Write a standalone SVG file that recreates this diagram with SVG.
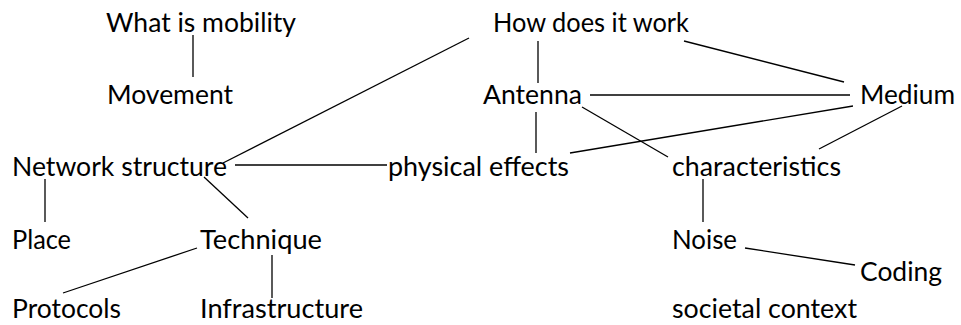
<svg xmlns="http://www.w3.org/2000/svg" width="961" height="325" viewBox="0 0 961 325">
<style>
text{font-family:Lato,"Open Sans","Liberation Sans",sans-serif;font-size:26.5px;fill:#000}
.c line{stroke:#000;stroke-width:1.3}
</style>
<rect width="961" height="325" fill="#fff"/>
<g id="connectors" class="c">
<line x1="193" y1="35" x2="193" y2="77"/>
<line x1="223" y1="163" x2="469" y2="38"/>
<line x1="235" y1="165" x2="387" y2="165"/>
<line x1="538" y1="41" x2="538" y2="83"/>
<line x1="684" y1="41" x2="844" y2="82"/>
<line x1="590" y1="95" x2="850" y2="95"/>
<line x1="536" y1="112" x2="536" y2="153"/>
<line x1="570" y1="153" x2="853" y2="106"/>
<line x1="582" y1="107" x2="668" y2="157"/>
<line x1="902" y1="106" x2="819" y2="149"/>
<line x1="45" y1="179" x2="45" y2="222"/>
<line x1="204" y1="177" x2="248" y2="218"/>
<line x1="197" y1="248" x2="63" y2="293"/>
<line x1="272" y1="255" x2="272" y2="298"/>
<line x1="703" y1="179" x2="703" y2="222"/>
<line x1="745" y1="248" x2="855" y2="265"/>
</g>
<g id="what-is-mobility"><text x="106" y="31.5" textLength="190" lengthAdjust="spacingAndGlyphs">What is mobility</text></g>
<g id="movement"><text x="107" y="104" textLength="126" lengthAdjust="spacingAndGlyphs">Movement</text></g>
<g id="how-does-it-work"><text x="493" y="31.5" textLength="196" lengthAdjust="spacingAndGlyphs">How does it work</text></g>
<g id="antenna"><text x="483" y="104" textLength="99" lengthAdjust="spacingAndGlyphs">Antenna</text></g>
<g id="medium"><text x="860" y="104" textLength="95" lengthAdjust="spacingAndGlyphs">Medium</text></g>
<g id="network-structure"><text x="12" y="175.5" textLength="215" lengthAdjust="spacingAndGlyphs">Network structure</text></g>
<g id="physical-effects"><text x="388" y="175.5" textLength="181" lengthAdjust="spacingAndGlyphs">physical effects</text></g>
<g id="characteristics"><text x="672" y="175.5" textLength="169" lengthAdjust="spacingAndGlyphs">characteristics</text></g>
<g id="place"><text x="12" y="249" textLength="59" lengthAdjust="spacingAndGlyphs">Place</text></g>
<g id="technique"><text x="200" y="249" textLength="122" lengthAdjust="spacingAndGlyphs">Technique</text></g>
<g id="noise"><text x="672" y="249" textLength="65" lengthAdjust="spacingAndGlyphs">Noise</text></g>
<g id="coding"><text x="860" y="281" textLength="82" lengthAdjust="spacingAndGlyphs">Coding</text></g>
<g id="protocols"><text x="12" y="317.5" textLength="109" lengthAdjust="spacingAndGlyphs">Protocols</text></g>
<g id="infrastructure"><text x="200" y="317.5" textLength="163" lengthAdjust="spacingAndGlyphs">Infrastructure</text></g>
<g id="societal-context"><text x="672" y="317.5" textLength="185" lengthAdjust="spacingAndGlyphs">societal context</text></g>
</svg>
